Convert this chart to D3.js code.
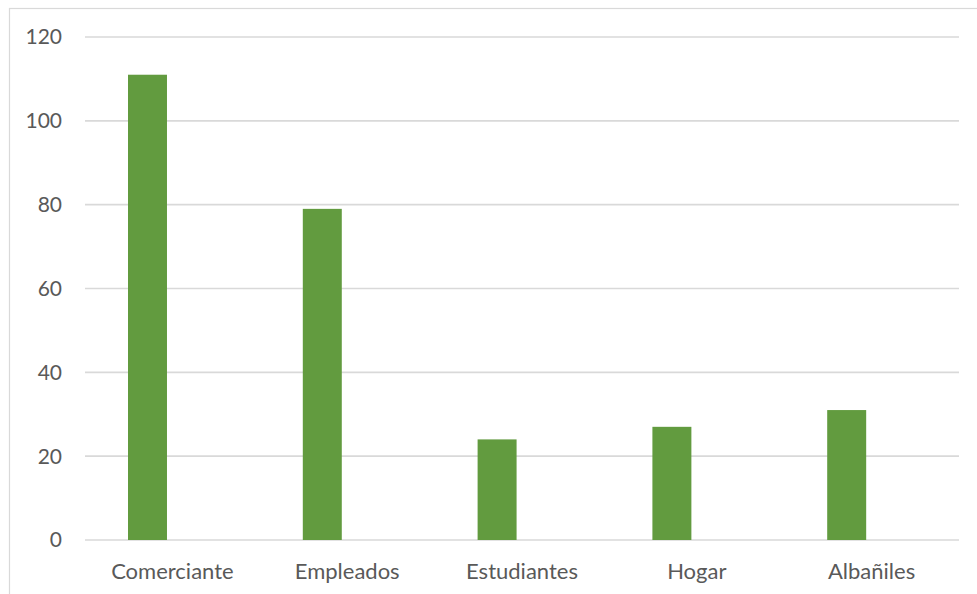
<!DOCTYPE html>
<html>
<head>
<meta charset="utf-8">
<script src="https://cdn.jsdelivr.net/npm/d3@7"></script>
<style>
  body { margin: 0; background: #fff; }
  svg { display: block; font-family: Lato, "Open Sans", sans-serif; }
</style>
</head>
<body>
<svg id="chart" width="977" height="594"></svg>
<script>
// data
const categories = ["Comerciante", "Empleados", "Estudiantes", "Hogar", "Albañiles"];
const counts = [111, 79, 24, 27, 31];
const yTicks = [0, 20, 40, 60, 80, 100, 120];

const svg = d3.select("#chart");
const margin = {left: 85, right: 18, top: 37, bottom: 54};
const W = 977, H = 594;

// chart frame (cut at right/bottom like the screenshot)
svg.append("rect")
  .attr("x", 9.5).attr("y", 8.5)
  .attr("width", 980).attr("height", 600)
  .attr("fill", "none").attr("stroke", "#d9d9d9").attr("stroke-width", 1.2);

const x = d3.scaleBand().domain(categories).range([margin.left, W - margin.right]);
const y = d3.scaleLinear().domain([0, 120]).range([H - margin.bottom, margin.top]);

// gridlines
svg.append("g").selectAll("line").data(yTicks).join("line")
  .attr("x1", margin.left).attr("x2", W - margin.right)
  .attr("y1", d => y(d)).attr("y2", d => y(d))
  .attr("stroke", "#d9d9d9").attr("stroke-width", 1.6);

// y labels
svg.append("g").selectAll("text").data(yTicks).join("text")
  .attr("x", 62).attr("y", d => y(d))
  .attr("dy", "0.35em")
  .attr("text-anchor", "end")
  .attr("fill", "#595959").attr("font-size", 21)
  .text(d => d);

// bars sit left of the category centre (first slot of a clustered pair)
const bw = x.bandwidth();
svg.append("g").selectAll("rect").data(categories).join("rect")
  .attr("x", d => x(d) + bw * 0.246)
  .attr("width", bw * 0.223)
  .attr("y", (d, i) => y(counts[i]))
  .attr("height", (d, i) => y(0) - y(counts[i]))
  .attr("fill", "#629b3f");

// category labels
svg.append("g").selectAll("text").data(categories).join("text")
  .attr("x", d => x(d) + bw / 2)
  .attr("y", 579)
  .attr("text-anchor", "middle")
  .attr("fill", "#595959").attr("font-size", 22)
  .text(d => d);
</script>
</body>
</html>
